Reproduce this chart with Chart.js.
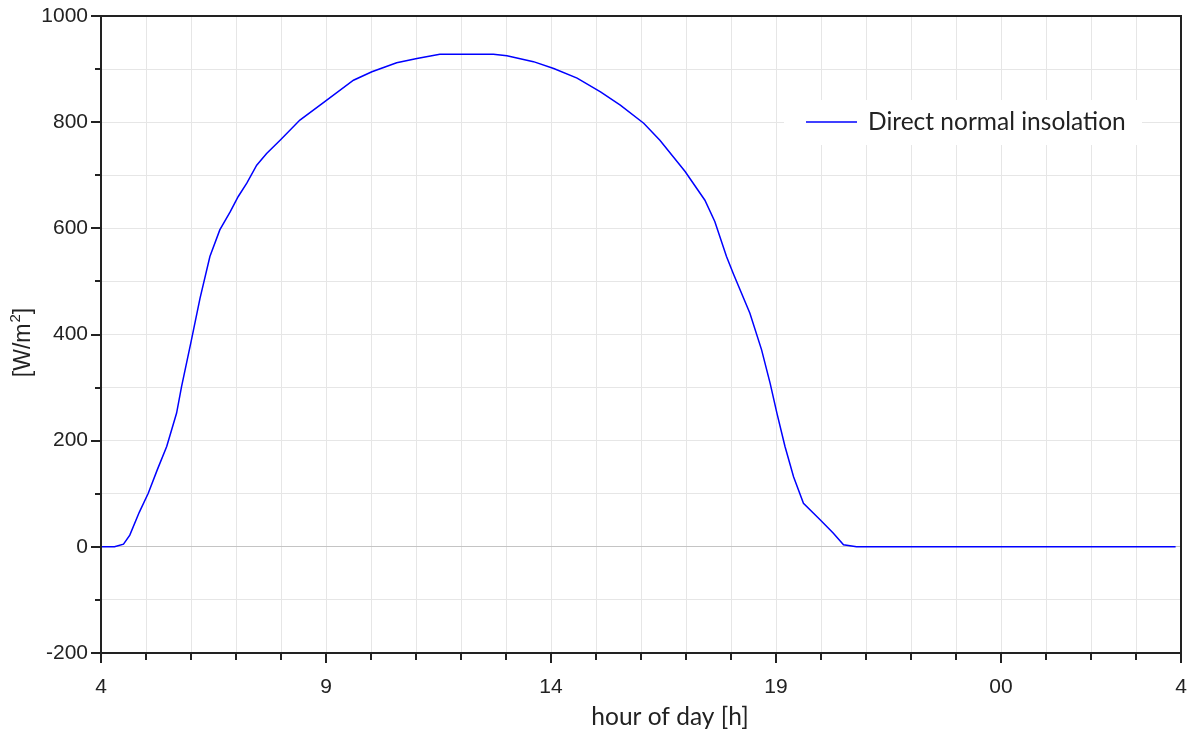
<!DOCTYPE html>
<html>
<head>
<meta charset="utf-8">
<script src="https://cdn.jsdelivr.net/npm/chart.js@4/dist/chart.umd.min.js"></script>
<style>
  html, body { margin: 0; padding: 0; background: #fff; }
  #wrap { width: 1196px; height: 735px; }
</style>
</head>
<body>
<div id="wrap"><canvas id="dni"></canvas></div>
<script>
// hour of day (4 = 04:00, 28 = 04:00 next day) and direct normal insolation [W/m2]
var hours = [4, 4.3, 4.5, 4.64, 4.85, 5.05, 5.25, 5.46, 5.68, 5.79, 6.01, 6.2, 6.42, 6.64, 6.87,
	7.05, 7.24, 7.46, 7.68, 7.98, 8.42, 8.98, 9.61, 10.02, 10.57, 11.02, 11.53, 12.72, 13.02,
	13.61, 14.06, 14.58, 15.1, 15.54, 16.06, 16.42, 16.98, 17.42, 17.64, 17.9, 18.05, 18.42,
	18.68, 18.87, 19.02, 19.2, 19.39, 19.61, 19.98, 20.27, 20.5, 20.79, 27.88];
var insolation = [0, 0, 5, 22, 65, 101, 145, 189, 252, 302, 390, 468, 547, 597, 631,
	660, 685, 719, 741, 766, 804, 839, 879, 895, 912, 920, 928, 928, 925,
	914, 901, 883, 857, 832, 798, 766, 707, 653, 613, 547, 515, 440,
	371, 308, 252, 189, 132, 82, 51, 26, 4, 0, 0];

// labelled hours on the time axis and the text shown for them
var labelHours = [4, 9, 14, 19, 24, 28];
var labelTexts = ['4', '9', '14', '19', '00', '4'];

var tickFont = { family: '"Liberation Sans", Arial, sans-serif', size: 21 };
var textFont = { family: 'Lato, "Open Sans", sans-serif', size: 24.5 };

function points() {
	var pts = [];
	for (var i = 0; i < hours.length; i++) pts.push({ x: hours[i], y: insolation[i] });
	return pts;
}

// frame around the plot, outward tick marks (long on labelled values), axis titles
var framePlugin = {
	id: 'frame',
	afterDraw: function(chart) {
		var ctx = chart.ctx, a = chart.chartArea;
		var xs = chart.scales.x, ys = chart.scales.y;
		ctx.save();
		ctx.strokeStyle = '#222';
		ctx.lineWidth = 2;
		ctx.beginPath();
		ys.ticks.forEach(function(t) {
			var py = Math.round(ys.getPixelForValue(t.value));
			var len = (t.value % 200 === 0) ? 10 : 6;
			ctx.moveTo(a.left, py);
			ctx.lineTo(a.left - len, py);
		});
		xs.ticks.forEach(function(t) {
			var px = Math.round(xs.getPixelForValue(t.value));
			var len = labelHours.indexOf(t.value) >= 0 ? 10 : 7;
			ctx.moveTo(px, a.bottom);
			ctx.lineTo(px, a.bottom + len);
		});
		ctx.stroke();
		ctx.strokeRect(a.left, a.top, a.right - a.left, a.bottom - a.top);

		// x axis title, sits a little right of centre
		ctx.fillStyle = '#222';
		ctx.font = textFont.size + 'px ' + textFont.family;
		ctx.textAlign = 'center';
		ctx.textBaseline = 'middle';
		ctx.fillText('hour of day [h]', a.left + 569, a.bottom + 64);

		// y axis title [W/m^2], rotated, with a raised exponent
		var big = '23px ' + tickFont.family, small = '15px ' + tickFont.family;
		ctx.translate(22, (a.top + a.bottom) / 2 + 8);
		ctx.rotate(-Math.PI / 2);
		ctx.textAlign = 'left';
		ctx.font = big;
		var w1 = ctx.measureText('[W/m').width, w3 = ctx.measureText(']').width;
		ctx.font = small;
		var w2 = ctx.measureText('2').width + 1;
		var x0 = -(w1 + w2 + w3) / 2;
		ctx.font = big;
		ctx.fillText('[W/m', x0, 2);
		ctx.font = small;
		ctx.fillText('2', x0 + w1 + 1, -6);
		ctx.font = big;
		ctx.fillText(']', x0 + w1 + w2, 2);
		ctx.restore();
	}
};

// legend drawn inside the plot, upper right
var legendPlugin = {
	id: 'innerLegend',
	afterDatasetsDraw: function(chart) {
		var ctx = chart.ctx, a = chart.chartArea;
		var ds = chart.data.datasets[0];
		var boxL = a.right - 397, boxT = a.top + 84;
		ctx.save();
		ctx.fillStyle = '#fff';
		ctx.fillRect(boxL, boxT, 358, 45);
		ctx.strokeStyle = ds.borderColor;
		ctx.lineWidth = ds.borderWidth;
		ctx.beginPath();
		ctx.moveTo(boxL + 22, boxT + 22);
		ctx.lineTo(boxL + 73, boxT + 22);
		ctx.stroke();
		ctx.fillStyle = '#222';
		ctx.font = textFont.size + 'px ' + textFont.family;
		ctx.textBaseline = 'middle';
		ctx.fillText(ds.label, boxL + 84, boxT + 22);
		ctx.restore();
	}
};

new Chart(document.getElementById('dni'), {
	type: 'line',
	data: {
		datasets: [{
			label: 'Direct normal insolation',
			data: points(),
			borderColor: '#0000ff',
			borderWidth: 1.5,
			pointRadius: 0,
			tension: 0,
			fill: false
		}]
	},
	options: {
		responsive: true,
		maintainAspectRatio: false,
		animation: false,
		layout: { padding: { left: 0, right: 15, top: 16, bottom: 0 } },
		plugins: {
			legend: { display: false },
			tooltip: { enabled: false }
		},
		scales: {
			x: {
				type: 'linear',
				min: 4,
				max: 28,
				afterFit: function(s) {
					s.height = 82;
					s.paddingLeft = 0;
					s.paddingRight = 0;
				},
				afterBuildTicks: function(s) {
					var t = [];
					for (var h = 4; h <= 28; h++) t.push({ value: h });
					s.ticks = t;
				},
				ticks: {
					autoSkip: false,
					maxRotation: 0,
					padding: 22,
					color: '#222',
					font: tickFont,
					callback: function(v) {
						var i = labelHours.indexOf(v);
						return i >= 0 ? labelTexts[i] : '';
					}
				},
				grid: { color: '#e6e6e6', lineWidth: 1, drawTicks: false },
				border: { display: false }
			},
			y: {
				min: -200,
				max: 1000,
				afterFit: function(s) {
					s.width = 101;
					s.paddingTop = 0;
					s.paddingBottom = 0;
				},
				ticks: {
					stepSize: 100,
					padding: 13,
					color: '#222',
					font: tickFont,
					callback: function(v) { return v % 200 === 0 ? String(v) : ''; }
				},
				grid: {
					color: function(c) { return c.tick && c.tick.value === 0 ? '#c4c4c4' : '#e6e6e6'; },
					lineWidth: 1,
					drawTicks: false
				},
				border: { display: false }
			}
		}
	},
	plugins: [framePlugin, legendPlugin]
});
</script>
</body>
</html>
